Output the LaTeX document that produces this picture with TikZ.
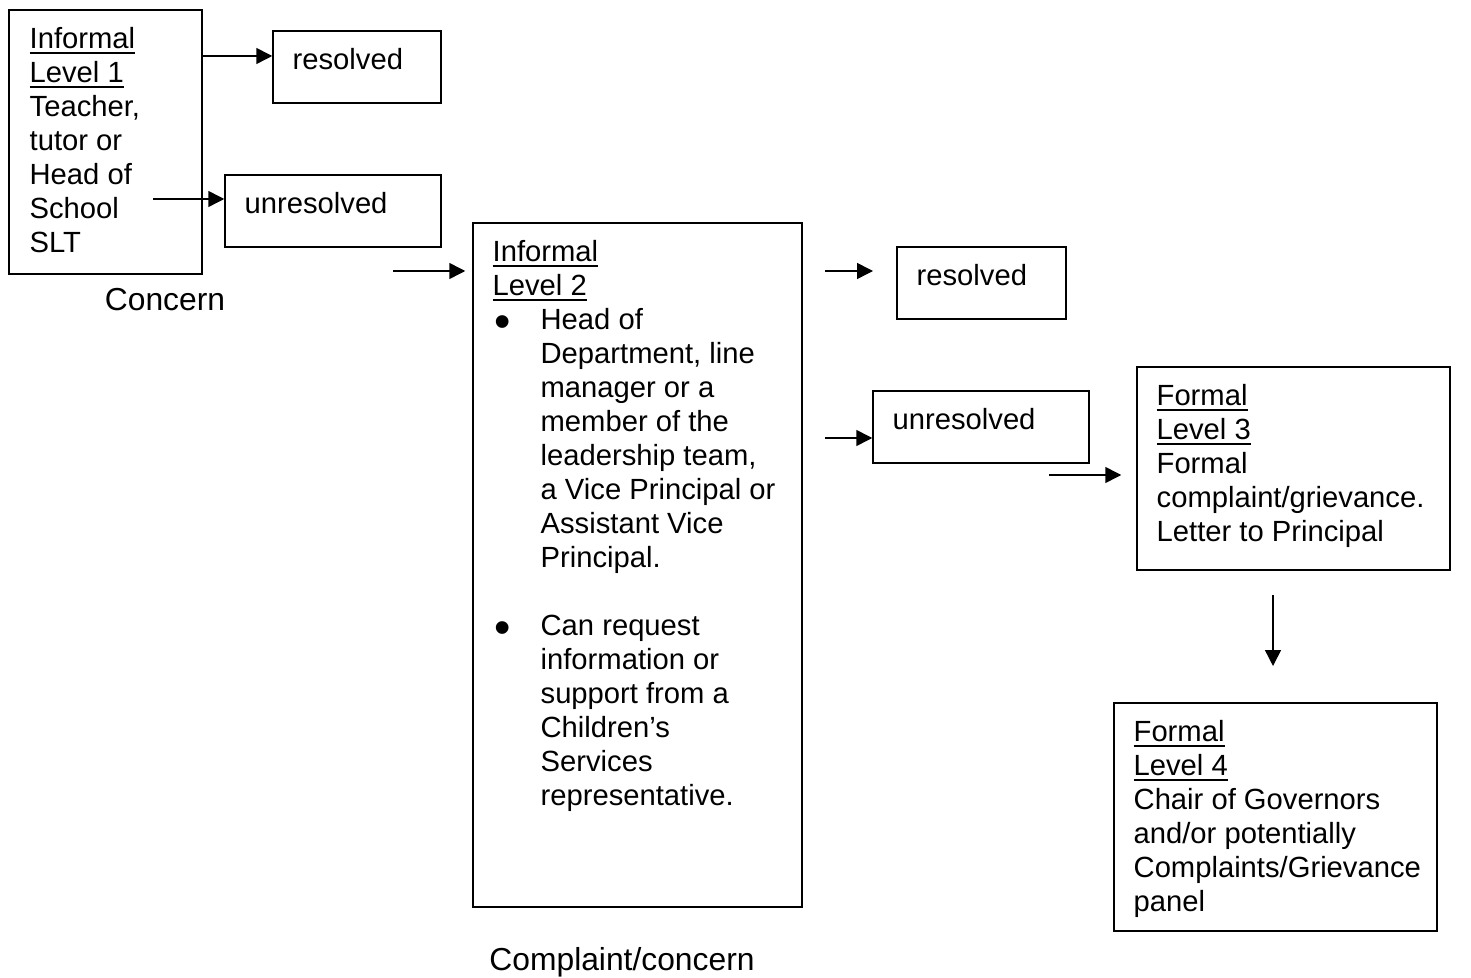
\documentclass[tikz,border=0pt]{standalone}
\usepackage{fontspec}
\setmainfont{Liberation Sans}
\usepackage{tikz}
\usetikzlibrary{arrows.meta}
\usetikzlibrary{positioning}
\newcommand{\lvlul}[1]{\setbox0\hbox{#1}\rlap{\rule[-2.7pt]{\wd0}{0.9pt}}\box0}
\newcommand{\bul}{\hspace*{1pt}\makebox[23pt][l]{\raisebox{-4.1pt}{\scalebox{1.6}{\textbullet}}}}
\newcommand{\ind}{\hspace*{24pt}}
\tikzstyle{box}=[draw,line width=0.75pt,inner sep=0pt]
\tikzstyle{txt}=[anchor=north west,inner sep=0pt,align=left,font=\fontsize{14.6}{17}\selectfont]
\tikzstyle{lbl}=[inner sep=0pt,font=\fontsize{15.9}{19}\selectfont]
\tikzstyle{hit}=[-{Triangle[length=8pt,width=8pt]},line width=0.75pt]
\begin{document}
\begin{tikzpicture}[x=0.5pt,y=-0.5pt]
\useasboundingbox (0,0) rectangle (1471,978);

\node[box,minimum width=96.5pt,minimum height=132pt] (lvone) at (105.5,142) {};
\node[txt] (lvonetxt) at ([shift={(21,17.5)}]lvone.north west)
  {\lvlul{Informal}\\\lvlul{Level 1}\\Teacher,\\tutor or\\Head of\\School\\SLT};
\node[lbl] (concern) at (165,300) {Concern};

\node[box,minimum width=84pt,minimum height=36pt] (resa) at (357,67) {};
\node[txt] (resatxt) at ([shift={(20,17.5)}]resa.north west) {resolved};
\node[box,minimum width=108pt,minimum height=36pt] (unresa) at (333,211) {};
\node[txt] (unresatxt) at ([shift={(20,17.5)}]unresa.north west) {unresolved};

\node[box,minimum width=164.5pt,minimum height=342pt] (lvtwo) at (637.5,565) {};
\node[txt] (lvtwotxt) at ([shift={(20,17.5)}]lvtwo.north west)
  {\lvlul{Informal}\\\lvlul{Level 2}\\
   \bul Head of\\\ind Department, line\\\ind manager or a\\\ind member of the\\
   \ind leadership team,\\\ind a Vice Principal or\\\ind Assistant Vice\\
   \ind Principal.\\[17pt]
   \bul Can request\\\ind information or\\\ind support from a\\\ind Children’s\\
   \ind Services\\\ind representative.};
\node[lbl] (complaint) at (622,962) {Complaint/concern};

\node[box,minimum width=84.5pt,minimum height=36pt] (resb) at (981.5,283) {};
\node[txt] (resbtxt) at ([shift={(20,17.5)}]resb.north west) {resolved};
\node[box,minimum width=108pt,minimum height=36pt] (unresb) at (981,427) {};
\node[txt] (unresbtxt) at ([shift={(20,17.5)}]unresb.north west) {unresolved};

\node[box,minimum width=156.5pt,minimum height=101.5pt] (lvthree) at (1293.5,468.5) {};
\node[txt] (lvthreetxt) at ([shift={(20,17.5)}]lvthree.north west)
  {\lvlul{Formal}\\\lvlul{Level 3}\\Formal\\complaint/grievance.\\Letter to Principal};

\node[box,minimum width=161.5pt,minimum height=114pt] (lvfour) at (1275.5,817) {};
\node[txt] (lvfourtxt) at ([shift={(20,17.5)}]lvfour.north west)
  {\lvlul{Formal}\\\lvlul{Level 4}\\Chair of Governors\\and/or potentially\\Complaints/Grievance\\panel};

\coordinate (a1) at (202,56);
\coordinate (a2) at (153,199);
\coordinate (a3) at (393,271);
\coordinate (a4) at (825,271);
\coordinate (a4e) at (873,271);
\coordinate (a5) at (825,438);
\coordinate (a6) at (1049,475);
\coordinate (a7) at (1273,595);
\coordinate (a7e) at (1273,666);
\draw[hit] (a1) -- (a1 -| resa.west);
\draw[hit] (a2) -- (a2 -| unresa.west);
\draw[hit,shorten >=3.5pt] (a3) -- (a3 -| lvtwo.west);
\draw[hit] (a4) -- (a4e);
\draw[hit] (a5) -- (a5 -| unresb.west);
\draw[hit,shorten >=7.5pt] (a6) -- (a6 -| lvthree.west);
\draw[hit] (a7) -- (a7e);
\end{tikzpicture}
\end{document}
